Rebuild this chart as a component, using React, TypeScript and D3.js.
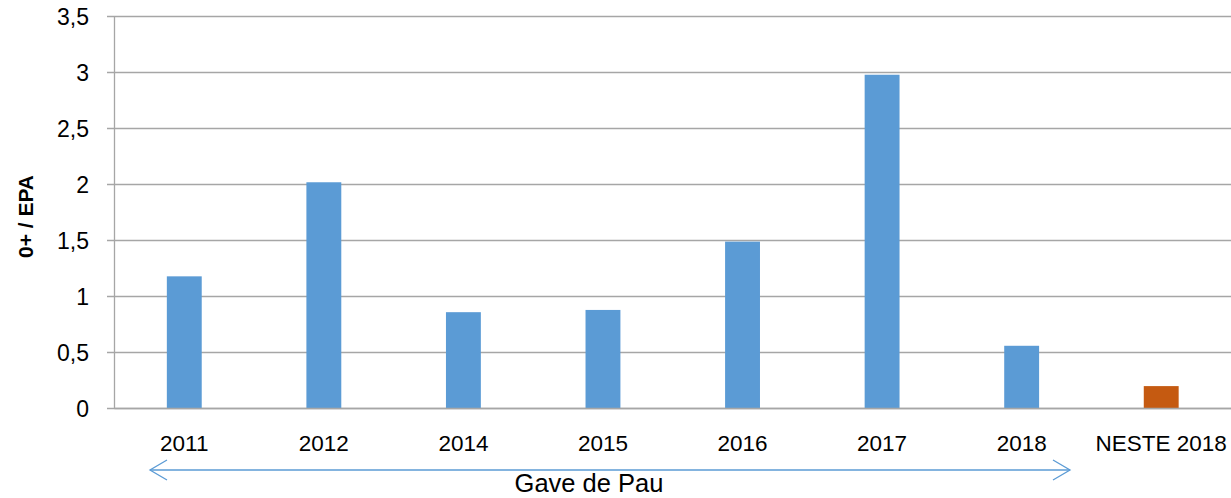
import React from "react";
import * as d3 from "d3";

const categories = ["2011", "2012", "2014", "2015", "2016", "2017", "2018", "NESTE 2018"];
const values = [1.18, 2.02, 0.86, 0.88, 1.49, 2.98, 0.56, 0.2];
const barColors = ["#5B9BD5", "#5B9BD5", "#5B9BD5", "#5B9BD5", "#5B9BD5", "#5B9BD5", "#5B9BD5", "#C55A11"];
const yTicks = [0, 0.5, 1, 1.5, 2, 2.5, 3, 3.5];
const yTickLabels = ["0", "0,5", "1", "1,5", "2", "2,5", "3", "3,5"];
const yTitle = "0+ / EPA";
const groupLabel = "Gave de Pau";

const W = 1231;
const H = 498;
const left = 114.5;
const right = 1231;
const top = 16.5;
const bottom = 408.5;
const font = "'Liberation Sans', Arial, sans-serif";

export default function App() {
  const x = d3.scaleBand<string>().domain(categories).range([left, right]).paddingInner(0).paddingOuter(0);
  const y = d3.scaleLinear().domain([0, 3.5]).range([bottom, top]);
  const bw = x.bandwidth() * 0.25;
  const arrowY = 470;
  const ax1 = 150;
  const ax2 = 1070;
  return (
    <svg width={W} height={H} style={{ position: "absolute", left: 0, top: 0, background: "#fff" }}>
      {yTicks.map((t, i) => (
        <g key={t}>
          <line x1={107} x2={right} y1={y(t)} y2={y(t)} stroke="#A6A6A6" strokeWidth={1.3} />
          <text x={89} y={y(t)} dy="0.35em" textAnchor="end" fontFamily={font} fontSize={23} fill="#000">
            {yTickLabels[i]}
          </text>
        </g>
      ))}
      <line x1={left} x2={left} y1={top} y2={bottom} stroke="#A6A6A6" strokeWidth={1.3} />
      {categories.map((c, i) => (
        <g key={c}>
          <rect
            x={(x(c) as number) + x.bandwidth() / 2 - bw / 2}
            y={y(values[i])}
            width={bw}
            height={bottom - y(values[i])}
            fill={barColors[i]}
          />
          <text x={(x(c) as number) + x.bandwidth() / 2} y={451} textAnchor="middle" fontFamily={font} fontSize={22.5} fill="#000">
            {c}
          </text>
        </g>
      ))}
      <line x1={left} x2={right} y1={bottom} y2={bottom} stroke="#A6A6A6" strokeWidth={1.3} />
      <text
        transform={`translate(33,216.5) rotate(-90)`}
        textAnchor="middle"
        fontFamily={font}
        fontWeight="bold"
        fontSize={21}
        fill="#000"
      >
        {yTitle}
      </text>
      <g stroke="#5B9BD5" strokeWidth={1.3} fill="none">
        <line x1={ax1} x2={ax2} y1={arrowY} y2={arrowY} />
        <polyline points={`${ax1 + 17},${arrowY - 10} ${ax1},${arrowY} ${ax1 + 17},${arrowY + 10}`} />
        <polyline points={`${ax2 - 17},${arrowY - 10} ${ax2},${arrowY} ${ax2 - 17},${arrowY + 10}`} />
      </g>
      <text x={589} y={492} textAnchor="middle" fontFamily={font} fontSize={25.5} fill="#000">
        {groupLabel}
      </text>
    </svg>
  );
}
